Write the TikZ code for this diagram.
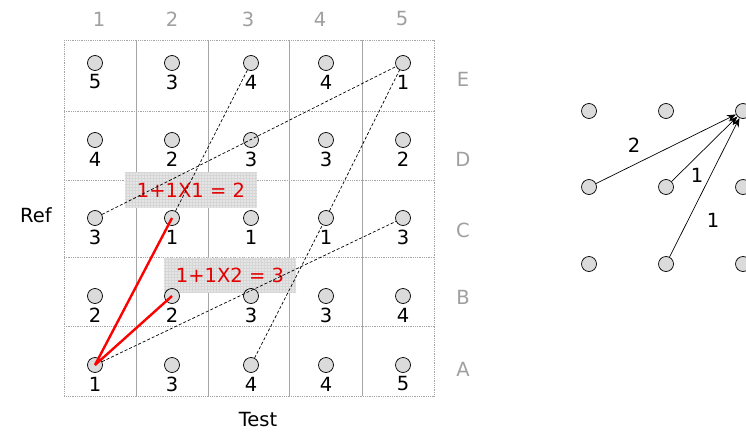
\documentclass[tikz,border=0pt]{standalone}
\usepackage{fontspec}
\setmainfont{DejaVu Sans}
\usetikzlibrary{patterns,arrows.meta}
\begin{document}
\begin{tikzpicture}[x=1pt,y=-1pt,
  dot/.style={circle,draw=black,fill=gray!28,minimum size=15pt,inner sep=0pt,line width=0.7pt},
  num/.style={font=\fontsize{19.5}{20}\selectfont,inner sep=0pt},
  axlab/.style={font=\fontsize{19.5}{20}\selectfont,text=gray!75,inner sep=0pt},
  gridv/.style={draw=gray!70,line width=0.6pt},
  gridh/.style={draw=gray!70,line width=0.8pt,densely dotted},
  dashln/.style={draw=black,line width=0.7pt,dash pattern=on 3pt off 2pt},
  redline/.style={draw=red,line width=2.4pt},
  calcbox/.style={draw=none,fill=gray!20,minimum width=132pt,minimum height=35pt,inner sep=0pt},
  calctext/.style={font=\fontsize{19.5}{20}\selectfont,text=red!90!black,inner sep=0pt},
  arr/.style={draw=black,line width=0.7pt,-{Stealth[length=9pt,width=7pt]}},
  lab/.style={font=\fontsize{19.5}{20}\selectfont,inner sep=0pt}
]
\useasboundingbox (0,0) rectangle (746,433);
% grid
\foreach \x in {136,208,289,362} \draw[gridv] (\x,40) -- (\x,396);
\foreach \y in {111,180,257,326} \draw[gridh] (64,\y) -- (434,\y);
\draw[gridh] (64,40) rectangle (434,396);
% axis labels
\node[axlab] (col1) at (99,19) {1};
\node[axlab] (col2) at (172,19) {2};
\node[axlab] (col3) at (248,19) {3};
\node[axlab] (col4) at (320,19) {4};
\node[axlab] (col5) at (402,19) {5};
\node[axlab] (rowE) at (463,79) {E};
\node[axlab] (rowD) at (463,159) {D};
\node[axlab] (rowC) at (463,230) {C};
\node[axlab] (rowB) at (463,297) {B};
\node[axlab] (rowA) at (463,369) {A};
\node[num] (ref) at (36,215) {Ref};
\node[num] (test) at (258,420) {Test};
% calc boxes
\node[calcbox] (box1) at (191,190) {};
\fill[pattern=grid,pattern color=gray!32] (box1.south west) rectangle (box1.north east);
\node[calcbox] (box2) at (230,275) {};
\fill[pattern=grid,pattern color=gray!32] (box2.south west) rectangle (box2.north east);
\node[calctext] (t1) at (191,190) {1+1X1 = 2};
\node[calctext] (t2) at (230,275) {1+1X2 = 3};
% dots and numbers
\foreach \r/\y/\vals in {E/63/{5,3,4,4,1},D/140/{4,2,3,3,2},C/218/{3,1,1,1,3},B/296/{2,2,3,3,4},A/365/{1,3,4,4,5}}{
  \foreach \c/\x [count=\i] in {1/95,2/172,3/251,4/326,5/403}{
    \node[dot] (d\c\r) at (\x,\y) {};
  }
  \foreach \v [count=\i] in \vals {
    \pgfmathsetmacro{\xx}{{95,172,251,326,403}[\i-1]}
    \node[num] (n\i\r) at (\xx,\y+19) {\v};
  }
}
% dashed
\draw[dashln] (d1C) -- (d5E);
\draw[dashln] (d2C) -- (d3E);
\draw[dashln] (d1A) -- (d5C);
\draw[dashln] (d3A) -- (d4C);
\draw[dashln] (d4C) -- (d5E);
% red
\draw[redline] (d1A.center) -- (d2C.center);
\draw[redline] (d1A.center) -- (d2B.center);
% right panel
\node[dot] (r11) at (589,111) {};
\node[dot] (r12) at (666,111) {};
\node[dot] (r13) at (743,111) {};
\node[dot] (r21) at (589,187) {};
\node[dot] (r22) at (666,187) {};
\node[dot] (r23) at (743,187) {};
\node[dot] (r31) at (589,264) {};
\node[dot] (r32) at (666,264) {};
\node[dot] (r33) at (743,264) {};
\draw[arr] (r21) -- (r13);
\draw[arr] (r22) -- (r13);
\draw[arr] (r32) -- (r13);
\node[lab] (w1) at (634,145) {2};
\node[lab] (w2) at (697,175) {1};
\node[lab] (w3) at (713,220) {1};
\end{tikzpicture}
\end{document}
